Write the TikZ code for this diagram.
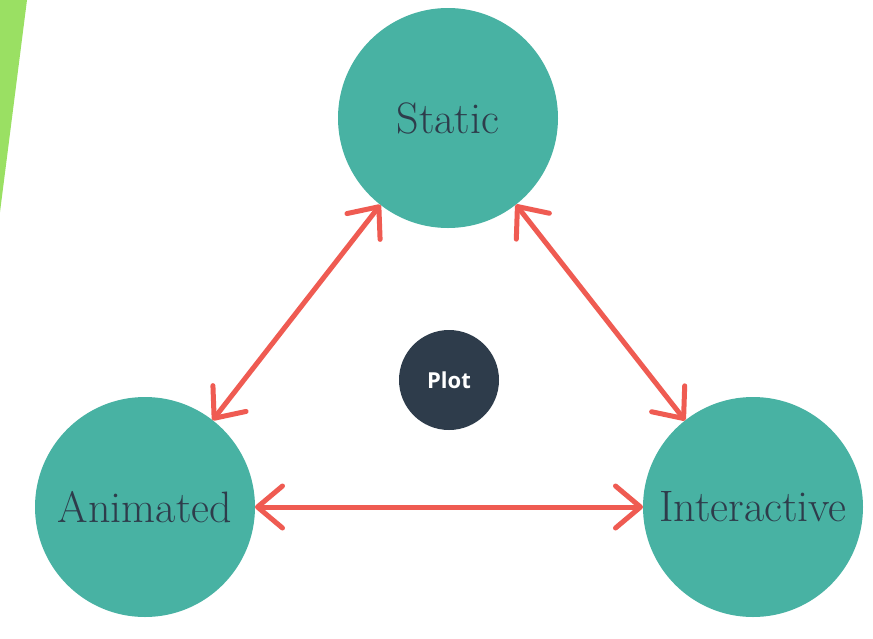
\documentclass[tikz,border=0pt]{standalone}
\usepackage{fontspec}
\newfontfamily\plotfont{Open Sans}
\usetikzlibrary{arrows.meta}
\definecolor{teal}{HTML}{48B2A3}
\definecolor{ink}{HTML}{2E3C4B}
\definecolor{crayon}{HTML}{EF5B52}
\definecolor{leaf}{HTML}{9AE063}
\tikzset{
  bigcircle/.style={circle, fill=teal, minimum size=220pt, inner sep=0pt, outer sep=0pt,
    text=ink, font=\fontsize{44}{52}\selectfont},
  plotcircle/.style={circle, fill=ink, minimum size=100pt, inner sep=0pt, outer sep=0pt,
    text=white, font=\plotfont\bfseries\fontsize{22}{26}\selectfont},
  link/.style={draw=crayon, line width=5pt, line cap=round,
    {Straight Barb[length=25pt, width=42pt, round]}-{Straight Barb[length=25pt, width=42pt, round]}}
}
\begin{document}
\begin{tikzpicture}[x=1pt, y=-1pt]
\useasboundingbox (0,0) rectangle (873,638);
\fill[white] (0,0) rectangle (873,638);
\fill[leaf] (0,0) -- (27,0) -- (0,212) -- cycle;
\node[bigcircle] (static) at (448,118) {Static};
\node[bigcircle] (animated) at (145,507) {Animated};
\node[bigcircle] (interactive) at (753,507) {Interactive};
\node[plotcircle] (plot) at (449,380) {Plot};
\draw[link] (static) -- (animated);
\draw[link] (static) -- (interactive);
\draw[link] (animated) -- (interactive);
\end{tikzpicture}
\end{document}
